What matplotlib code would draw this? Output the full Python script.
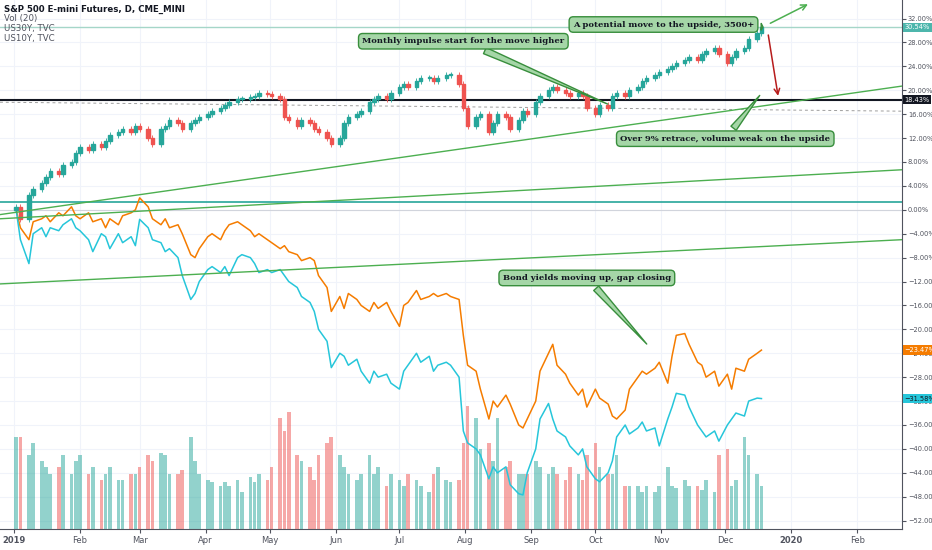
import numpy as np, pandas as pd
import matplotlib
matplotlib.use("Agg")
import matplotlib.pyplot as plt
import matplotlib.dates as mdates
from matplotlib.patches import Rectangle

spx = [0.5,-1.5,2.5,3.5,4.5,5.5,6.5,6.0,7.5,8.0,9.5,
       10.5,10.0,11.0,10.5,11.5,12.5,13.0,13.5,13.0,14.0,
       13.5,12.0,11.0,13.5,14.0,15.0,14.5,13.5,14.5,15.0,15.5,
       16.0,16.5,17.0,17.5,18.0,18.5,18.5,18.8,19.0,19.5,19.3,
       19.0,18.5,15.5,15.0,14.0,15.0,14.5,13.5,13.0,12.0,11.0,
       12.0,14.5,15.5,16.0,16.5,18.0,18.5,19.0,18.5,19.5,
       20.5,21.0,20.5,21.5,22.0,22.0,21.5,22.0,22.5,22.5,21.0,
       17.0,14.0,15.5,16.0,13.0,14.5,16.0,15.5,13.5,15.0,16.5,
       16.0,18.0,19.0,20.0,20.5,20.0,19.5,19.0,19.5,19.0,
       17.0,16.0,17.5,17.0,19.0,19.5,19.0,20.0,20.5,21.5,22.0,22.5,
       23.0,23.5,24.0,24.5,25.0,25.5,25.0,26.0,26.5,27.0,
       26.0,24.5,25.5,26.5,27.0,28.5,29.5,30.54]
us30 = [0,-3,-5,-2,-1.5,-1,-2,-0.5,-1,0.5,-1,
        -1.5,-0.5,-2,-1.5,-3,-1.5,-2.5,-1,-0.5,0,
        2.0,0.5,-1.5,-2.5,-1.5,-3.0,-2.5,-4,-7.5,-8,-6.5,
        -4.5,-4,-5,-3.5,-2.5,-2,-2.5,-3.5,-4.5,-4,-5,
        -5.5,-6.5,-6,-7,-7.5,-8.5,-8,-8.5,-11,-13,-17,
        -14.5,-16.5,-14,-15,-16,-17,-15.5,-16.5,-15.5,-17,
        -19.5,-16,-15.5,-13.5,-15,-14.5,-14,-14.5,-14,-14.5,-15,
        -21,-26,-27,-30,-35,-32,-33,-31,-32.5,-36,-36.5,
        -35,-32,-27,-24,-22.5,-26,-27.5,-29,-31,-30,
        -33,-30,-31.5,-32.5,-34.5,-35,-33.5,-30,-28,-27,-27.5,-26.5,
        -25.5,-29,-24.5,-21,-20.7,-22.5,-25.5,-26,-28,-27,
        -29.5,-27.5,-30,-26.5,-27,-25,-24,-23.47]
us10 = [0,-5,-9,-4,-3,-4.5,-3,-3.5,-2.5,-1.5,-3,
        -3.5,-5,-7,-4,-4.5,-6.5,-4,-5.5,-4.5,-6,
        -1.6,-3,-5,-5.5,-7,-6.5,-8,-11,-15,-14,-12,
        -10,-9.5,-10.5,-9.5,-11,-8,-7.5,-8,-9,-10.5,-10,
        -10.5,-10,-11,-12,-13,-14.5,-15.5,-17,-20,-22,-26.4,
        -24,-24.5,-26,-25,-27,-29,-27,-28,-27.5,-29,
        -30,-27,-26,-24,-25.5,-24.5,-27,-26,-25.5,-26,-28,
        -37,-39,-40,-41,-45,-43,-44,-43,-46,-47.5,-47.7,
        -44,-40,-35,-32.4,-35,-37,-38,-39.5,-41,-40,
        -43,-45,-45.5,-44,-42,-38,-36,-37.5,-36.5,-35.5,-37,-36.5,
        -39.5,-35,-33,-30.7,-31,-33,-36,-37,-38,-37,
        -38.7,-36,-35,-34,-34.5,-32,-31.5,-31.58]
vol = [0.75,0.75,0.6,0.7,0.55,0.5,0.45,0.5,0.6,0.45,0.55,
       0.6,0.45,0.5,0.4,0.45,0.5,0.4,0.4,0.45,0.45,
       0.5,0.6,0.55,0.62,0.6,0.45,0.45,0.48,0.75,0.55,0.45,
       0.4,0.38,0.35,0.38,0.35,0.4,0.3,0.42,0.38,0.45,0.4,
       0.5,0.9,0.8,0.95,0.6,0.55,0.5,0.4,0.6,0.7,0.75,
       0.6,0.5,0.45,0.4,0.45,0.6,0.45,0.5,0.35,0.45,
       0.4,0.35,0.45,0.4,0.35,0.3,0.45,0.5,0.4,0.38,0.4,
       0.7,1.0,0.9,0.65,0.7,0.55,0.9,0.5,0.55,0.45,0.45,
       0.45,0.55,0.5,0.45,0.5,0.45,0.4,0.5,0.45,0.4,
       0.6,0.7,0.5,0.45,0.45,0.6,0.35,0.35,0.35,0.3,0.35,0.3,
       0.35,0.5,0.35,0.33,0.4,0.35,0.35,0.32,0.4,0.3,
       0.6,0.65,0.35,0.4,0.75,0.6,0.45,0.35]

dates = pd.bdate_range("2019-01-02", periods=2*len(spx))[::2]
x = mdates.date2num(dates)

GREEN = "#26a69a"; RED = "#ef5350"
fig = plt.figure(figsize=(9.32, 5.5), dpi=100)
ax = fig.add_axes([0, 21/550, 902/932, 529/550])
xmin = mdates.date2num(pd.Timestamp("2018-12-25 10:00"))
xmax = mdates.date2num(pd.Timestamp("2020-02-22"))
ylo, yhi = -53.4, 35.1

axv = fig.add_axes(ax.get_position())
axv.set_xlim(xmin, xmax)
axv.set_ylim(0, 4.3)
axv.xaxis.set_visible(False); axv.yaxis.set_visible(False)
for s in axv.spines.values(): s.set_visible(False)
axv.set_zorder(0)
ax.set_zorder(1)
ax.patch.set_visible(False)
ax.set_xlim(xmin, xmax)
ax.set_ylim(ylo, yhi)

opens = [0.0] + spx[:-1]
cols = [GREEN if c >= o else RED for o, c in zip(opens, spx)]
axv.bar(x, vol, width=1.7, color=cols, alpha=0.5, zorder=1)

for yv in range(-52, 33, 4):
    axv.axhline((yv - ylo)/(yhi - ylo)*4.3, color="#f0f3fa", lw=0.8, zorder=0)
for dd in pd.date_range("2019-01-01", "2020-02-01", freq="MS"):
    axv.axvline(mdates.date2num(dd), color="#f0f3fa", lw=0.8, zorder=0)

w = 1.6
for xi, o, c, col in zip(x, opens, spx, cols):
    lo, hi = min(o, c), max(o, c)
    ax.vlines(xi, lo - 0.5, hi + 0.5, color=col, lw=0.6, zorder=4)
    ax.add_patch(Rectangle((xi - w/2, lo), w, max(hi - lo, 0.15), color=col, zorder=4))

ax.plot(x, us30, color="#f57c00", lw=1.1, zorder=3)
ax.plot(x, us10, color="#26c6da", lw=1.1, zorder=3)

line_x = [xmin, xmax]
trend1 = [-0.8, 20.7]
trend2 = [-1.5, 6.7]
trend3 = [-12.4, -5.0]
dashed = [18.0, 16.5]
for tl in (trend1, trend2, trend3):
    ax.plot(line_x, tl, color="#4caf50", lw=1.0, zorder=5)
ax.plot(line_x, dashed, color="#9e9e9e", lw=0.7, ls=(0, (3, 3)), zorder=2)
ax.axhline(1.3, color="#26a69a", lw=1.2, zorder=2)
ax.axhline(0, color="#d1d4dc", lw=0.8, zorder=1)
ax.axhline(18.43, color="#131722", lw=1.5, zorder=2)
ax.axhline(30.54, color="#a5d6c8", lw=1.0, zorder=2)

def d(s): return mdates.date2num(pd.Timestamp(s))

box = dict(boxstyle="round,pad=0.45,rounding_size=0.5", fc="#a5d6a7", ec="#388e3c", lw=1)
arr = dict(arrowstyle="wedge,tail_width=0.8,shrink_factor=0.5", fc="#a5d6a7", ec="#388e3c", lw=1)
kw = dict(fontsize=6.0, fontweight="bold", family="DejaVu Serif", color="#131722", zorder=8,
          ha="center", va="center", bbox=box, arrowprops=arr)
ax.annotate("Monthly impulse start for the move higher", xy=(d("2019-10-08"), 17.5),
            xytext=(d("2019-07-31"), 28.2), **kw)
ax.annotate("A potential move to the upside, 3500+", xy=(d("2019-12-20"), 30.6),
            xytext=(d("2019-11-02"), 31.0), **kw)
ax.annotate("Over 9% retrace, volume weak on the upside", xy=(d("2019-12-18"), 19.5),
            xytext=(d("2019-12-01"), 11.9), **kw)
ax.annotate("Bond yields moving up, gap closing", xy=(d("2019-10-26"), -22.8),
            xytext=(d("2019-09-27"), -11.4), **kw)
ax.annotate("", xy=(d("2020-01-10"), 34.6), xytext=(d("2019-12-21"), 31.0),
            arrowprops=dict(arrowstyle="->", color="#4caf50", lw=1.1), zorder=8)
ax.annotate("", xy=(d("2019-12-26"), 18.6), xytext=(d("2019-12-21"), 29.7),
            arrowprops=dict(arrowstyle="->", color="#b71c1c", lw=1.1), zorder=8)

for s in ["top", "left"]:
    ax.spines[s].set_visible(False)
ax.spines["right"].set_color("#50535e")
ax.spines["bottom"].set_color("#50535e")
ax.yaxis.tick_right()
ax.set_yticks(range(-52, 33, 4))
ax.set_yticklabels([f"{v:.2f}%".replace("-", "\u2212") for v in range(-52, 33, 4)],
                   fontsize=4.8, color="#50535e")
ax.tick_params(axis="y", length=3, pad=1.2, color="#50535e")
ticks = pd.date_range("2019-01-01", "2020-02-01", freq="MS")
ax.set_xticks(mdates.date2num(ticks))
ax.set_xticklabels([t.strftime("%Y") if t.month == 1 else t.strftime("%b") for t in ticks],
                   fontsize=6, color="#50535e")
for lab, t in zip(ax.get_xticklabels(), ticks):
    if t.month == 1: lab.set_fontweight("bold")
ax.tick_params(axis="x", length=3, pad=2, color="#50535e")

for val, fc, tc in [(30.54, "#4db6ac", "white"), (18.43, "#131722", "white"),
                    (-23.47, "#f57c00", "white"), (-31.58, "#26c6da", "#131722")]:
    ax.text(1.003, (val - ylo)/(yhi - ylo), f"{val:.2f}%".replace("-", "\u2212"),
            transform=ax.transAxes, fontsize=4.8, color=tc, va="center", ha="left",
            bbox=dict(boxstyle="square,pad=0.25", fc=fc, ec="none"), zorder=9, clip_on=False)

fig.text(4/932, 1-9/550, "S&P 500 E-mini Futures, D, CME_MINI", fontsize=6.2, color="#131722",
         fontweight="bold", va="center")
for i, t in enumerate(["Vol (20)", "US30Y, TVC", "US10Y, TVC"]):
    fig.text(4/932, 1-(19+i*9.5)/550, t, fontsize=6.2, color="#50535e", va="center")

fig.savefig("out.png", dpi=100, facecolor="white")
